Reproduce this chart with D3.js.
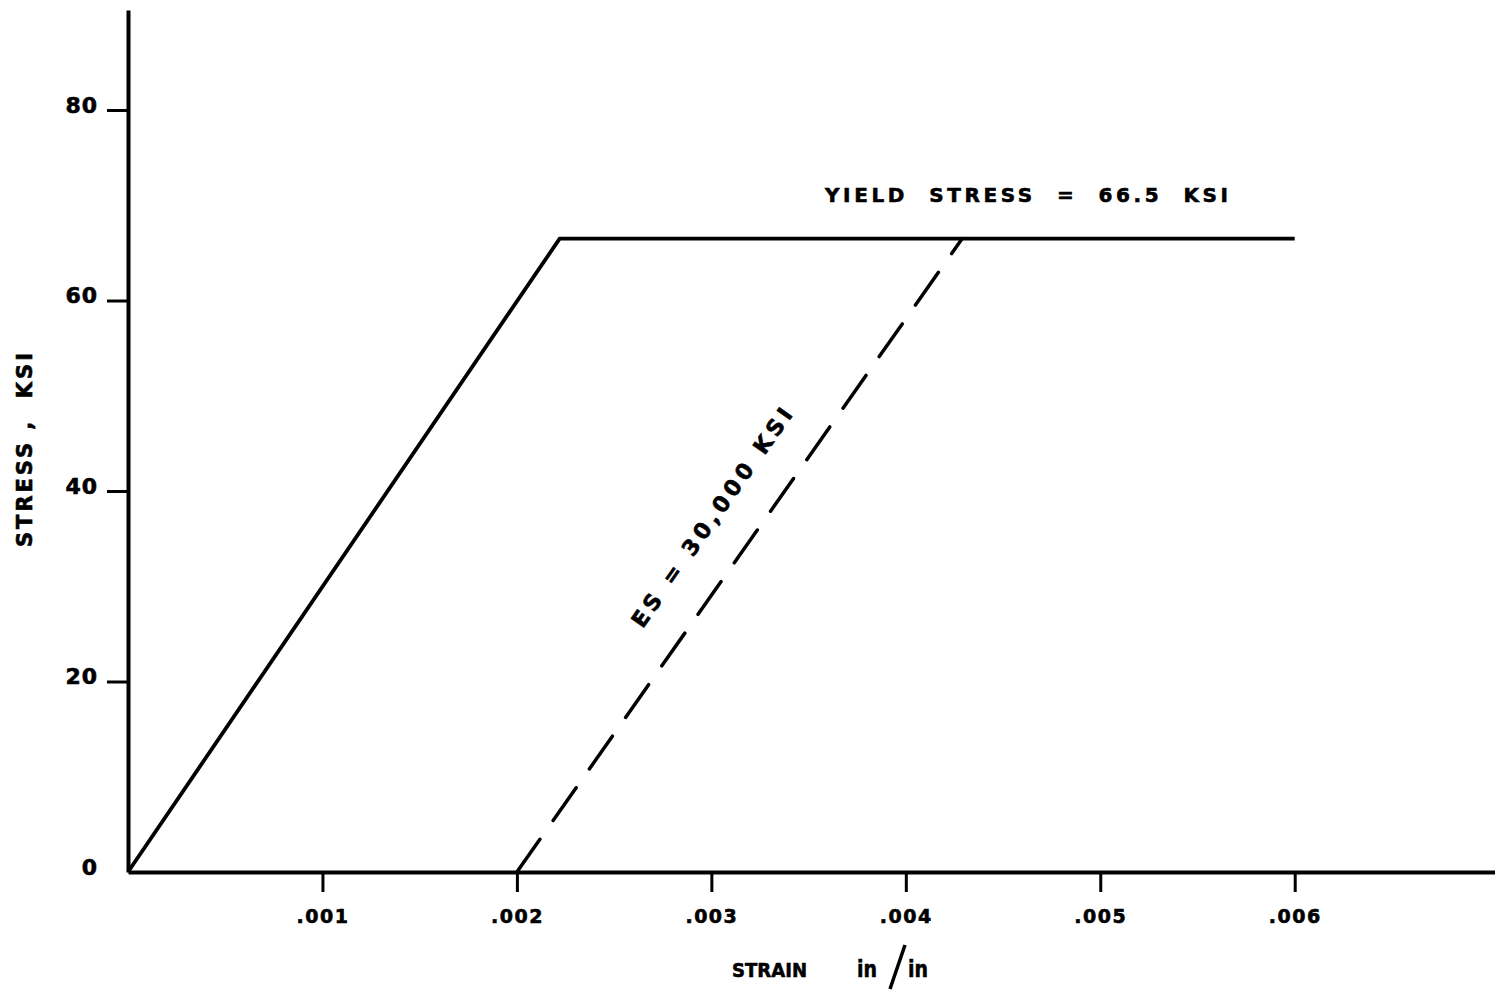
<!DOCTYPE html>
<html>
<head>
<meta charset="utf-8">
<script src="https://cdn.jsdelivr.net/npm/d3@7"></script>
<style>
  body { margin: 0; background: #fff; }
  svg { display: block; }
  text { font-family: "DejaVu Sans", "Liberation Sans", sans-serif; font-weight: bold; fill: #000; stroke: #000; stroke-width: 0.6px; }
</style>
</head>
<body>
<div id="chart"></div>
<script>
const width = 1495;
const height = 991;

// strain ticks (in/in) and stress ticks (ksi)
const strainTicks = [0.001, 0.002, 0.003, 0.004, 0.005, 0.006];
const strainTickLabels = [".001", ".002", ".003", ".004", ".005", ".006"];
const stressTicks = [0, 20, 40, 60, 80];

// elastic-perfectly-plastic curve
const curveStrain = [0, 0.00222, 0.006];
const curveStress = [0, 66.5, 66.5];

// unloading line, Es = 30,000 ksi
const unloadStrain = [0.002, 0.00429];
const unloadStress = [0, 66.5];

const yieldLabel = "YIELD  STRESS  =  66.5  KSI";
const modulusLabel = "ES = 30,000 KSI";

const x = d3.scaleLinear().domain([0, 0.00703]).range([128, 1495]);
const y = d3.scaleLinear().domain([0, 90.5]).range([872, 10]);

const svg = d3.select("#chart")
  .append("svg")
  .attr("width", width)
  .attr("height", height);

// y axis
const yAxis = svg.append("g")
  .attr("transform", `translate(${x(0)},0)`)
  .call(d3.axisLeft(y).tickValues(stressTicks).tickSize(21).tickSizeOuter(0).tickPadding(9)
    .tickFormat(d3.format("d")));
yAxis.select(".domain").attr("stroke", "#000").attr("stroke-width", 4);
yAxis.selectAll(".tick line").attr("stroke", "#000").attr("stroke-width", 3)
  .attr("opacity", d => d === 0 ? 0 : 1);
yAxis.selectAll(".tick text")
  .attr("font-size", 22)
  .attr("font-family", "DejaVu Sans")
  .attr("font-weight", "bold")
  .attr("letter-spacing", 1)
  .attr("dy", "0.1em");

// x axis
const xAxis = svg.append("g")
  .attr("transform", `translate(0,${y(0)})`)
  .call(d3.axisBottom(x).tickValues(strainTicks).tickSize(20).tickSizeOuter(0).tickPadding(18)
    .tickFormat((d, i) => strainTickLabels[i]));
xAxis.select(".domain").attr("stroke", "#000").attr("stroke-width", 4);
xAxis.selectAll(".tick line").attr("stroke", "#000").attr("stroke-width", 3);
xAxis.selectAll(".tick text")
  .attr("font-size", 19)
  .attr("font-family", "DejaVu Sans")
  .attr("font-weight", "bold")
  .attr("letter-spacing", 1.5);

// curves
const line = d3.line().x(d => x(d[0])).y(d => y(d[1]));

svg.append("path")
  .datum(d3.zip(curveStrain, curveStress))
  .attr("d", line)
  .attr("fill", "none")
  .attr("stroke", "#000")
  .attr("stroke-width", 3.8)
  .attr("stroke-linejoin", "round");

svg.append("path")
  .datum(d3.zip(unloadStrain, unloadStress))
  .attr("d", line)
  .attr("fill", "none")
  .attr("stroke", "#000")
  .attr("stroke-width", 3.5)
  .attr("stroke-linecap", "round")
  .attr("stroke-dasharray", "40,23");

// annotations
svg.append("text")
  .attr("x", 825)
  .attr("y", 202)
  .attr("font-size", 20)
  .attr("textLength", 403)
  .attr("lengthAdjust", "spacing")
  .attr("xml:space", "preserve")
  .text(yieldLabel);

const ang = Math.atan2(y(unloadStress[1]) - y(0), x(unloadStrain[1]) - x(unloadStrain[0])) * 180 / Math.PI;
svg.append("text")
  .attr("transform", `translate(718,522) rotate(${ang})`)
  .attr("text-anchor", "middle")
  .attr("font-size", 22)
  .attr("textLength", 262)
  .attr("lengthAdjust", "spacing")
  .text(modulusLabel);

// axis titles
svg.append("text")
  .attr("transform", "translate(32,450) rotate(-90)")
  .attr("text-anchor", "middle")
  .attr("font-size", 21)
  .attr("textLength", 194)
  .attr("lengthAdjust", "spacing")
  .attr("xml:space", "preserve")
  .text("STRESS ,  KSI");

svg.append("text")
  .attr("x", 732)
  .attr("y", 977)
  .attr("font-size", 20)
  .attr("textLength", 75)
  .attr("lengthAdjust", "spacingAndGlyphs")
  .text("STRAIN");

svg.append("text")
  .attr("x", 857)
  .attr("y", 977)
  .attr("font-size", 23)
  .attr("textLength", 20)
  .attr("lengthAdjust", "spacingAndGlyphs")
  .text("in");
svg.append("line")
  .attr("x1", 890).attr("y1", 989)
  .attr("x2", 905).attr("y2", 945)
  .attr("stroke", "#000")
  .attr("stroke-width", 3.5);
svg.append("text")
  .attr("x", 908)
  .attr("y", 977)
  .attr("font-size", 23)
  .attr("textLength", 20)
  .attr("lengthAdjust", "spacingAndGlyphs")
  .text("in");
</script>
</body>
</html>
